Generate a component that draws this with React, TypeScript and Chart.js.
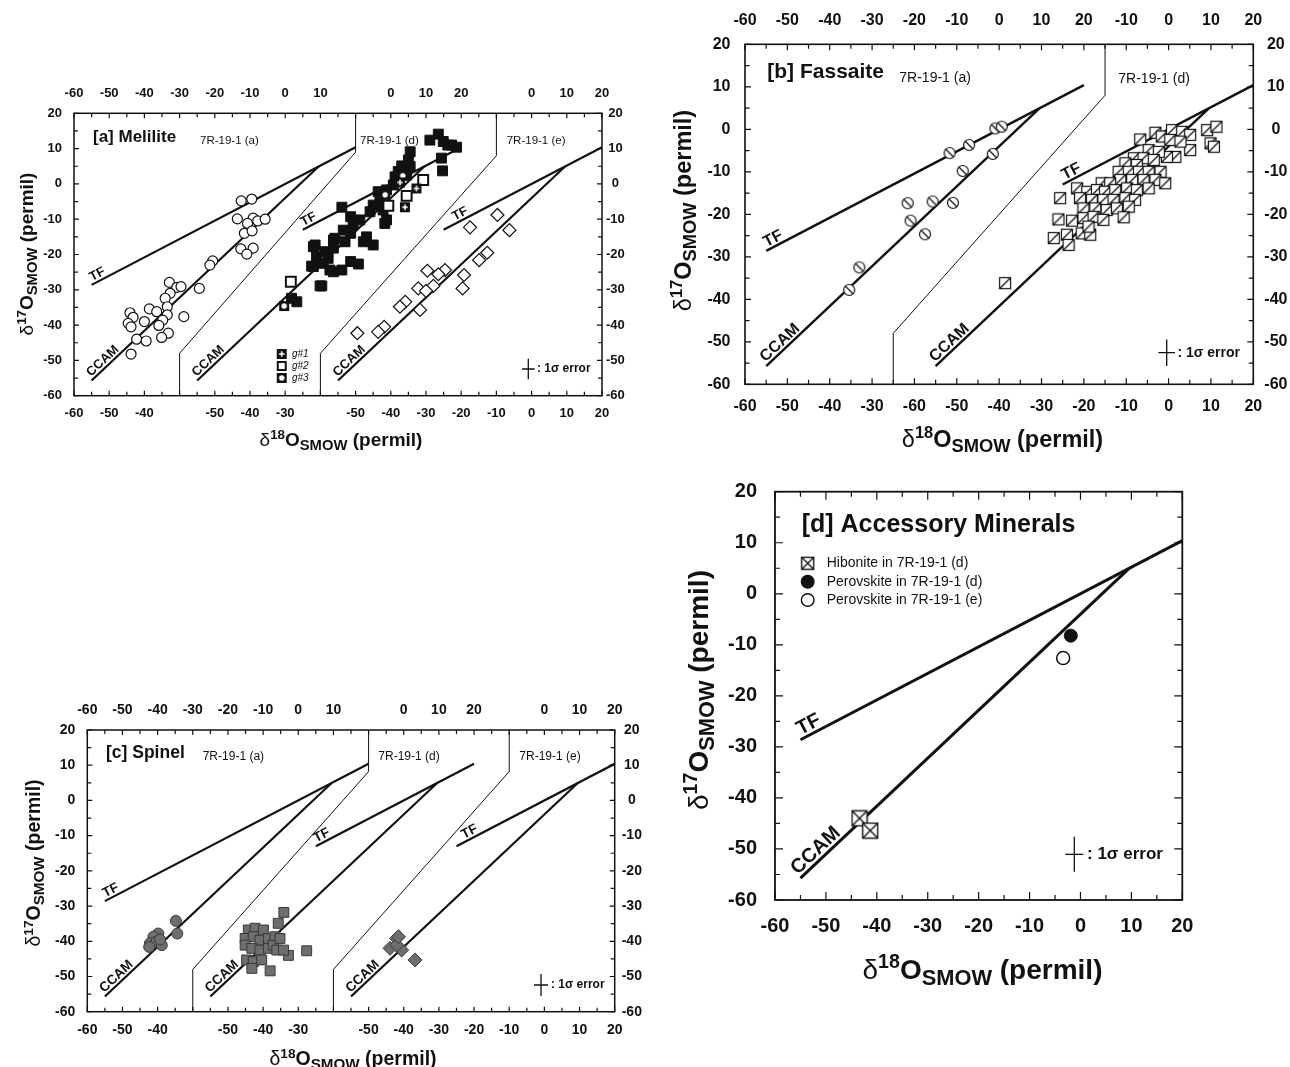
import React, { useEffect, useRef } from "react";
import { Chart, registerables } from "chart.js";

Chart.register(...registerables);

const FONT = "'Liberation Sans', Arial, Helvetica, sans-serif";
const INK = "#111111";
const GRAY_FILL = "#6e6e6e";
const GRAY_EDGE = "#3a3a3a";

// ---------- reference lines ----------
const TF_SLOPE = 0.52;
const CCAM_SLOPE = 0.94;
const CCAM_INTERCEPT = -4.0;
const TF_LONG = [-55, 20];
const TF_SHORT = [-25, 20];
const CCAM_SPAN = [-55, 9.5];

// ---------- y axis ----------
const Y_MIN = -60;
const Y_MAX = 20;
const Y_STEP = 10;

// ---------- [a] Melilite ----------
const MELILITE_A = [
  [-12.5, -4.8], [-9.5, -4.3], [-13.6, -9.9], [-9.1, -9.7], [-7.8, -10.5], [-5.7, -10.0], [-10.7, -11.2],
  [-11.6, -14.0], [-9.4, -13.3], [-12.6, -18.4], [-9.1, -18.2], [-10.9, -19.9], [-20.6, -21.8], [-21.4, -23.0],
  [-32.9, -27.9], [-30.8, -29.3], [-29.6, -29.1], [-24.4, -29.6], [-32.7, -31.0], [-34.1, -32.4], [-33.5, -34.8],
  [-44.1, -36.5], [-38.6, -35.4], [-36.5, -36.2], [-33.5, -37.1], [-43.2, -37.8], [-28.8, -37.6], [-44.6, -39.5],
  [-40.0, -39.0], [-34.8, -38.6], [-35.9, -40.1], [-43.8, -40.5], [-33.2, -42.3], [-35.1, -43.5], [-42.2, -44.0],
  [-39.5, -44.5], [-43.8, -48.2],
];
const MELILITE_D = [
  [13.5, 14.1], [11.1, 12.4], [14.9, 12.0], [17.3, 11.0], [18.7, 10.4], [16.2, 11.0], [14.4, 7.3], [14.7, 3.7],
  [5.5, 9.1], [5.0, 6.8], [3.1, 5.1], [5.5, 4.9], [2.1, 3.5], [1.2, 2.0], [4.5, 2.5], [0.7, -0.3], [-1.2, -1.7],
  [-3.6, -2.2], [-3.1, -4.6], [-5.0, -6.0], [-2.2, -7.4], [-5.9, -7.9], [-1.2, -10.2], [-1.7, -11.2],
  [-13.9, -6.6], [-11.4, -9.3], [-8.8, -10.2], [-10.7, -11.6], [-13.5, -13.1], [-11.4, -14.0], [-15.9, -15.4],
  [-13.0, -16.4], [-6.9, -15.0], [-7.8, -16.4], [-5.0, -17.3], [-16.3, -18.2], [-22.0, -17.8], [-18.7, -19.2],
  [-21.1, -20.6], [-17.8, -21.1], [-22.5, -23.3], [-19.2, -22.5], [-16.3, -24.9], [-13.9, -24.4], [-11.4, -22.0],
  [-9.2, -22.7], [-19.6, -28.9], [-28.2, -32.4], [-26.7, -33.4], [-21.5, -17.3], [-16.3, -15.9], [-17.3, -24.4],
  [-20.1, -28.9], [-22.0, -23.4],
];
const MELILITE_G1 = [[4.0, -6.6], [7.3, -1.3], [2.6, 0.4]];
const MELILITE_G2 = [[-28.4, -27.7], [9.2, 1.1], [4.5, -3.4], [-0.7, -6.2]];
const MELILITE_G3 = [[-30.3, -34.6], [-1.6, -3.1], [3.4, 2.3]];
const MELILITE_E = [
  [-17.5, -12.3], [-9.7, -8.8], [-6.3, -13.1], [-12.6, -19.5], [-14.9, -21.6], [-19.2, -25.8], [-19.6, -29.6],
  [-24.6, -24.4], [-26.5, -25.6], [-29.6, -24.6], [-27.9, -28.9], [-32.2, -29.6], [-30.0, -30.3], [-31.7, -35.7],
  [-35.9, -33.4], [-37.4, -34.8], [-41.9, -40.5], [-43.6, -41.9], [-49.5, -42.3],
];

// ---------- [b] Fassaite ----------
const FASSAITE_A = [
  [-11.7, -5.6], [-7.1, -3.7], [-8.6, -9.8], [-21.6, -17.4], [-15.7, -17.0], [-10.9, -17.3], [-20.9, -21.5],
  [-17.5, -24.7], [-33.0, -32.5], [-35.4, -37.8], [-0.9, 0.2], [0.6, 0.6], [-1.5, -5.8],
];
const FASSAITE_D = [
  [-6.7, -2.4], [-3.1, -0.8], [-1.6, -1.7], [0.8, -0.2], [3.2, -0.6], [5.1, -1.3], [9.1, -0.2], [11.3, 0.6],
  [9.9, -3.3], [10.7, -4.1], [5.1, -4.9], [1.6, -6.5], [-0.4, -6.5], [0.4, -2.5], [2.8, -2.9], [-4.7, -4.9],
  [-2.3, -5.3], [-8.2, -6.8], [-5.9, -6.8], [-3.5, -7.2], [-10.2, -8.0], [-7.5, -8.4], [-11.8, -10.0],
  [-9.4, -10.0], [-7.0, -10.0], [-4.7, -10.0], [-1.9, -10.0], [-11.4, -11.9], [-8.6, -11.9], [-5.9, -11.9],
  [-3.1, -11.9], [-0.8, -12.7], [-15.8, -12.7], [-13.8, -12.7], [-21.6, -13.9], [-19.2, -14.7], [-16.9, -14.3],
  [-15.0, -14.7], [-12.6, -14.3], [-9.8, -13.9], [-7.5, -14.3], [-4.7, -13.9], [-25.6, -16.2], [-20.9, -16.2],
  [-18.1, -16.6], [-15.4, -16.6], [-13.0, -16.6], [-10.2, -16.2], [-7.9, -16.6], [-20.1, -18.6], [-17.3, -18.6],
  [-14.6, -19.0], [-12.2, -18.6], [-9.4, -18.2], [-26.0, -21.2], [-22.8, -21.5], [-20.1, -20.9], [-17.7, -20.6],
  [-15.4, -21.3], [-10.6, -20.7], [-27.1, -25.6], [-24.0, -24.8], [-23.6, -27.2], [-20.5, -24.5], [-18.5, -24.8],
  [-18.9, -22.9], [-38.6, -36.2],
];

// ---------- [c] Spinel ----------
const SPINEL_A = [
  [-34.8, -34.2], [-34.4, -37.8], [-39.8, -37.8], [-41.2, -38.7], [-42.2, -40.6], [-40.3, -40.1],
  [-38.8, -41.1], [-42.4, -41.6], [-39.3, -39.5],
];
const SPINEL_D = [
  [-44.2, -36.8], [-42.3, -36.3], [-39.9, -36.8], [-45.1, -39.2], [-42.8, -38.7], [-40.9, -39.7], [-38.5, -39.2],
  [-36.6, -38.7], [-45.1, -41.1], [-43.2, -42.0], [-40.9, -42.5], [-38.5, -42.0], [-44.7, -45.3], [-42.8, -45.8],
  [-40.4, -45.3], [-43.2, -47.7], [-37.1, -41.1], [-36.1, -42.5], [-34.1, -31.8], [-35.7, -34.9], [-27.6, -42.7],
  [-38.0, -48.4], [-32.8, -44.0], [-34.2, -42.5], [-35.2, -39.2],
];
const SPINEL_E = [[-42.0, -39.2], [-43.9, -42.0], [-40.6, -42.5], [-42.0, -41.1], [-36.8, -45.3], [-41.5, -38.7]];

// ---------- [d] Accessory minerals ----------
const HIBONITE_D = [[-43.4, -44.0], [-41.3, -46.4]];
const PEROVSKITE_D = [[-1.9, -8.2]];
const PEROVSKITE_E = [[-3.4, -12.6]];
const D_LEGEND = ["Hibonite in 7R-19-1 (d)", "Perovskite in 7R-19-1 (d)", "Perovskite in 7R-19-1 (e)"];

// ---------- composite x axes (sub-panel offsets and tick labels) ----------
const A_OFF = { a: 60, d: 90, e: 130 };
const B_OFF = { a: 60, d: 100 };
const C_OFF = { a: 60, d: 90, e: 130 };
const A_BOTTOM_TICKS = { a: [-60, -50, -40], d: [-50, -40, -30], e: [-50, -40, -30, -20, -10, 0, 10, 20] };
const A_TOP_TICKS = { a: [-60, -50, -40, -30, -20, -10, 0, 10], d: [0, 10, 20], e: [0, 10, 20] };
const B_BOTTOM_TICKS = { a: [-60, -50, -40, -30], d: [-60, -50, -40, -30, -20, -10, 0, 10, 20] };
const B_TOP_TICKS = { a: [-60, -50, -40, -30, -20, -10, 0, 10, 20], d: [-10, 0, 10, 20] };
const C_BOTTOM_TICKS = { a: [-60, -50, -40], d: [-50, -40, -30], e: [-50, -40, -30, -20, -10, 0, 10, 20] };
const C_TOP_TICKS = { a: [-60, -50, -40, -30, -20, -10, 0, 10], d: [0, 10, 20], e: [0, 10, 20] };
const D_X_TICKS = [-60, -50, -40, -30, -20, -10, 0, 10, 20];

// separators between sub-panels (composite units)
const A_SEPARATORS = [
  { u: [30, 30, 80, 80], y: [-60, -48, 9, 20] },
  { u: [70, 70, 120, 120], y: [-60, -48, 8, 20] },
];
const B_SEPARATORS = [{ u: [35, 35, 85, 85], y: [-60, -48, 8, 20] }];
const C_SEPARATORS = [
  { u: [30, 30, 80, 80], y: [-60, -48, 8.2, 20] },
  { u: [70, 70, 120, 120], y: [-60, -48, 8.2, 20] },
];

// ---------- helpers ----------
function composite(spec: Record<string, number[]>, offs: Record<string, number>) {
  const out: { v: number; label: string }[] = [];
  Object.keys(spec).forEach((k) => spec[k].forEach((t) => out.push({ v: t + offs[k], label: String(t) })));
  return out;
}

function symCanvas(w: number, h: number, draw: (c: CanvasRenderingContext2D) => void) {
  const cv = document.createElement("canvas");
  cv.width = w;
  cv.height = h;
  draw(cv.getContext("2d")!);
  return cv;
}
function slashedCircle(r: number) {
  const s = Math.ceil(r * 2 + 3);
  return symCanvas(s, s, (c) => {
    const m = s / 2;
    c.lineWidth = 1.2;
    c.strokeStyle = INK;
    c.fillStyle = "#fff";
    c.beginPath();
    c.arc(m, m, r, 0, Math.PI * 2);
    c.fill();
    c.stroke();
    const k = r * 0.72;
    c.beginPath();
    c.moveTo(m - k, m - k);
    c.lineTo(m + k, m + k);
    c.stroke();
  });
}
function slashedSquare(side: number) {
  const s = Math.ceil(side + 3);
  return symCanvas(s, s, (c) => {
    const a = (s - side) / 2;
    c.lineWidth = 1.2;
    c.strokeStyle = INK;
    c.fillStyle = "#fff";
    c.fillRect(a, a, side, side);
    c.strokeRect(a, a, side, side);
    c.beginPath();
    c.moveTo(a, a + side);
    c.lineTo(a + side, a);
    c.stroke();
  });
}
function crossedSquare(side: number) {
  const s = Math.ceil(side + 3);
  return symCanvas(s, s, (c) => {
    const a = (s - side) / 2;
    c.lineWidth = 1.4;
    c.strokeStyle = INK;
    c.fillStyle = "#fff";
    c.fillRect(a, a, side, side);
    c.strokeRect(a, a, side, side);
    c.beginPath();
    c.moveTo(a, a);
    c.lineTo(a + side, a + side);
    c.moveTo(a, a + side);
    c.lineTo(a + side, a);
    c.stroke();
  });
}
function g1Symbol(side: number) {
  const s = Math.ceil(side + 2);
  return symCanvas(s, s, (c) => {
    const a = (s - side) / 2;
    c.fillStyle = INK;
    c.fillRect(a, a, side, side);
    c.strokeStyle = "#fff";
    c.lineWidth = 1.6;
    const m = s / 2;
    const k = side * 0.28;
    c.beginPath();
    c.moveTo(m - k, m);
    c.lineTo(m + k, m);
    c.moveTo(m, m - k);
    c.lineTo(m, m + k);
    c.stroke();
  });
}
function g3Symbol(side: number) {
  const s = Math.ceil(side + 2);
  return symCanvas(s, s, (c) => {
    const a = (s - side) / 2;
    c.fillStyle = INK;
    c.fillRect(a, a, side, side);
    c.fillStyle = "#fff";
    c.beginPath();
    c.arc(s / 2, s / 2, side * 0.27, 0, Math.PI * 2);
    c.fill();
  });
}

const toXY = (pts: number[][], off: number) => pts.map(([x, y]) => ({ x: x + off, y }));
function pointSet(label: string, pts: number[][], off: number, style: any) {
  return { label, data: toXY(pts, off), showLine: false, order: 0, ...style };
}
function lineSet(xs: number[], ys: number[], width: number) {
  return {
    label: "",
    data: xs.map((x, i) => ({ x, y: ys[i] })),
    showLine: true,
    pointRadius: 0,
    borderColor: INK,
    borderWidth: width,
    order: 1,
    fill: false,
    tension: 0,
  };
}
type RefLine = { text: string; u: number[]; y: number[]; along: number };
function refLines(off: number, tfRange: number[], tfAlong: number, ccAlong: number): RefLine[] {
  return [
    { text: "TF", u: tfRange.map((v) => v + off), y: tfRange.map((v) => TF_SLOPE * v), along: tfAlong },
    {
      text: "CCAM",
      u: CCAM_SPAN.map((v) => v + off),
      y: CCAM_SPAN.map((v) => CCAM_SLOPE * v + CCAM_INTERCEPT),
      along: ccAlong,
    },
  ];
}

function xScale(position: string, min: number, max: number, ticks: { v: number; label: string }[], size: number, pad: number, h: number) {
  const map = new Map(ticks.map((t) => [t.v, t.label]));
  return {
    type: "linear",
    position,
    min,
    max,
    grid: { display: false, drawTicks: false },
    border: { display: false },
    ticks: {
      autoSkip: false,
      maxRotation: 0,
      minRotation: 0,
      padding: pad,
      color: INK,
      font: { family: FONT, size, weight: "bold" },
      callback: (v: any) => map.get(Number(v)) ?? "",
    },
    afterBuildTicks: (s: any) => {
      s.ticks = ticks.map((t) => ({ value: t.v }));
    },
    afterFit: (s: any) => {
      s.height = h;
    },
  };
}
function yScale(position: string, size: number, pad: number, w: number, crossAlign: string) {
  return {
    type: "linear",
    position,
    min: Y_MIN,
    max: Y_MAX,
    grid: { display: false, drawTicks: false },
    border: { display: false },
    ticks: { stepSize: Y_STEP, padding: pad, color: INK, crossAlign, font: { family: FONT, size, weight: "bold" } },
    afterFit: (s: any) => {
      s.width = w;
    },
  };
}

function drawAxisTitle(ctx: CanvasRenderingContext2D, x: number, y: number, F: number, vertical: boolean, sup: string) {
  const segs = [
    { t: "δ", font: `${F}px ${FONT}`, dy: 0 },
    { t: sup, font: `bold ${0.7 * F}px ${FONT}`, dy: -0.38 * F },
    { t: "O", font: `bold ${F}px ${FONT}`, dy: 0 },
    { t: "SMOW", font: `bold ${0.78 * F}px ${FONT}`, dy: 0.22 * F },
    { t: " (permil)", font: `bold ${F}px ${FONT}`, dy: 0 },
  ];
  let total = 0;
  const widths = segs.map((s) => {
    ctx.font = s.font;
    const w = ctx.measureText(s.t).width;
    total += w;
    return w;
  });
  ctx.save();
  ctx.translate(x, y);
  if (vertical) ctx.rotate(-Math.PI / 2);
  ctx.textAlign = "left";
  ctx.textBaseline = "alphabetic";
  let cx = -total / 2;
  segs.forEach((s, i) => {
    ctx.font = s.font;
    ctx.fillText(s.t, cx, s.dy);
    cx += widths[i];
  });
  ctx.restore();
}

interface Deco {
  left: number;
  top: number;
  frameW: number;
  tickMajor: number;
  tickMinor: number;
  texts: { t: string; x: number; y: number; font: string }[];
  lines: RefLine[];
  lineFont: string;
  lineGap: number;
  xTitle: { cx: number; base: number; F: number };
  yTitle: { base: number; cy: number; F: number };
  err: { cx: number; cy: number; hw: number; hh: number; tx: number; font: string };
  legend?: { x: number; y: number; draw: (c: CanvasRenderingContext2D, x: number, y: number) => void; text: string; tx: number; font: string }[];
}

function decoPlugin(d: Deco) {
  return {
    id: "deco",
    afterDatasetsDraw(chart: any) {
      const ctx = chart.ctx as CanvasRenderingContext2D;
      const ca = chart.chartArea;
      const xs = chart.scales.x;
      const ys = chart.scales.y;
      const X = (px: number) => px - d.left;
      const Y = (py: number) => py - d.top;
      ctx.save();
      ctx.strokeStyle = INK;
      ctx.fillStyle = INK;
      // inward ticks on all four sides
      ctx.lineWidth = 1.2;
      ctx.beginPath();
      for (let v = xs.min; v <= xs.max + 1e-6; v += 5) {
        const px = xs.getPixelForValue(v);
        const len = Math.abs(v % 10) < 1e-6 ? d.tickMajor : d.tickMinor;
        ctx.moveTo(px, ca.top);
        ctx.lineTo(px, ca.top + len);
        ctx.moveTo(px, ca.bottom);
        ctx.lineTo(px, ca.bottom - len);
      }
      for (let v = ys.min; v <= ys.max + 1e-6; v += 5) {
        const py = ys.getPixelForValue(v);
        const len = Math.abs(v % 10) < 1e-6 ? d.tickMajor : d.tickMinor;
        ctx.moveTo(ca.left, py);
        ctx.lineTo(ca.left + len, py);
        ctx.moveTo(ca.right, py);
        ctx.lineTo(ca.right - len, py);
      }
      ctx.stroke();
      // frame
      ctx.lineWidth = d.frameW;
      ctx.strokeRect(ca.left, ca.top, ca.right - ca.left, ca.bottom - ca.top);
      // texts
      ctx.textAlign = "left";
      ctx.textBaseline = "middle";
      d.texts.forEach((t) => {
        ctx.font = t.font;
        ctx.fillText(t.t, X(t.x), Y(t.y));
      });
      // TF / CCAM labels along their lines
      d.lines.forEach((L) => {
        const x0 = xs.getPixelForValue(L.u[0]);
        const y0 = ys.getPixelForValue(L.y[0]);
        const x1 = xs.getPixelForValue(L.u[1]);
        const y1 = ys.getPixelForValue(L.y[1]);
        const ang = Math.atan2(y1 - y0, x1 - x0);
        ctx.save();
        ctx.translate(x0, y0);
        ctx.rotate(ang);
        ctx.font = d.lineFont;
        ctx.textBaseline = "alphabetic";
        ctx.fillText(L.text, L.along, -d.lineGap);
        ctx.restore();
      });
      // error cross
      const e = d.err;
      ctx.lineWidth = 1.3;
      ctx.beginPath();
      ctx.moveTo(X(e.cx - e.hw), Y(e.cy));
      ctx.lineTo(X(e.cx + e.hw), Y(e.cy));
      ctx.moveTo(X(e.cx), Y(e.cy - e.hh));
      ctx.lineTo(X(e.cx), Y(e.cy + e.hh));
      ctx.stroke();
      ctx.font = e.font;
      ctx.textBaseline = "middle";
      ctx.fillText(": 1σ error", X(e.tx), Y(e.cy));
      // legend
      (d.legend || []).forEach((it) => {
        it.draw(ctx, X(it.x), Y(it.y));
        ctx.fillStyle = INK;
        ctx.font = it.font;
        ctx.textBaseline = "middle";
        ctx.fillText(it.text, X(it.tx), Y(it.y));
      });
      // axis titles
      drawAxisTitle(ctx, X(d.xTitle.cx), Y(d.xTitle.base), d.xTitle.F, false, "18");
      drawAxisTitle(ctx, X(d.yTitle.base), Y(d.yTitle.cy), d.yTitle.F, true, "17");
      ctx.restore();
    },
  };
}

function baseOptions(scales: any, padding: any = 0) {
  return {
    responsive: false,
    animation: false,
    events: [],
    layout: { padding },
    plugins: { legend: { display: false }, tooltip: { enabled: false }, title: { display: false } },
    scales,
  };
}

function drawImg(img: HTMLCanvasElement) {
  return (c: CanvasRenderingContext2D, x: number, y: number) => c.drawImage(img, x - img.width / 2, y - img.height / 2);
}

// ---------- panel builders ----------
type PanelBox = { left: number; top: number; width: number; height: number };

function buildA(box: PanelBox) {
  const g1 = g1Symbol(10);
  const g3 = g3Symbol(10);
  const openSq = symCanvas(12, 12, (c) => {
    c.fillStyle = "#fff";
    c.fillRect(1, 1, 10, 10);
    c.strokeStyle = INK;
    c.lineWidth = 2;
    c.strokeRect(2, 2, 8, 8);
  });
  const lines = [
    ...refLines(A_OFF.a, TF_LONG, 2, 2),
    ...refLines(A_OFF.d, TF_SHORT, 2, 2),
    ...refLines(A_OFF.e, TF_SHORT, 14, 2),
  ];
  const datasets: any[] = [
    pointSet("g#1", MELILITE_G1, A_OFF.d, { pointStyle: g1, pointRadius: 6 }),
    pointSet("g#2", MELILITE_G2, A_OFF.d, { pointStyle: "rect", pointRadius: 7, backgroundColor: "#fff", borderColor: INK, borderWidth: 2 }),
    pointSet("g#3", MELILITE_G3, A_OFF.d, { pointStyle: g3, pointRadius: 6 }),
    pointSet("7R-19-1 (d)", MELILITE_D, A_OFF.d, { pointStyle: "rect", pointRadius: 7, backgroundColor: INK, borderColor: INK, borderWidth: 1 }),
    pointSet("7R-19-1 (a)", MELILITE_A, A_OFF.a, { pointStyle: "circle", pointRadius: 5, backgroundColor: "#fff", borderColor: INK, borderWidth: 1.2 }),
    pointSet("7R-19-1 (e)", MELILITE_E, A_OFF.e, { pointStyle: "rectRot", pointRadius: 6.5, backgroundColor: "#fff", borderColor: INK, borderWidth: 1.2 }),
    ...lines.map((L) => lineSet(L.u, L.y, 2.2)),
    ...A_SEPARATORS.map((s) => lineSet(s.u, s.y, 1)),
  ];
  const scales = {
    x: xScale("bottom", 0, 150, composite(A_BOTTOM_TICKS, A_OFF), 13, 9.8, 64.3),
    x2: xScale("top", 0, 150, composite(A_TOP_TICKS, A_OFF), 13, 12.2, 53.3),
    y: yScale("left", 13, 12, 74, "near"),
    y2: yScale("right", 13, 4, 48, "center"),
  };
  const deco: Deco = {
    left: box.left,
    top: box.top,
    frameW: 1.5,
    tickMajor: 5,
    tickMinor: 4,
    texts: [
      { t: "[a] Melilite", x: 93, y: 137.5, font: `bold 17px ${FONT}` },
      { t: "7R-19-1 (a)", x: 200, y: 141, font: `11.5px ${FONT}` },
      { t: "7R-19-1 (d)", x: 360, y: 141, font: `11.5px ${FONT}` },
      { t: "7R-19-1 (e)", x: 506.7, y: 141, font: `11.5px ${FONT}` },
    ],
    lines,
    lineFont: `bold 13px ${FONT}`,
    lineGap: 3,
    xTitle: { cx: 341, base: 446, F: 19 },
    yTitle: { base: 33, cy: 254, F: 19 },
    err: { cx: 528.3, cy: 369, hw: 6.3, hh: 10.3, tx: 537, font: `bold 12px ${FONT}` },
    legend: [
      { x: 281.7, y: 354, draw: drawImg(g1), text: "g#1", tx: 292, font: `italic 10px ${FONT}` },
      { x: 281.7, y: 366, draw: drawImg(openSq), text: "g#2", tx: 292, font: `italic 10px ${FONT}` },
      { x: 281.7, y: 378, draw: drawImg(g3), text: "g#3", tx: 292, font: `italic 10px ${FONT}` },
    ],
  };
  return { type: "scatter", data: { datasets }, options: baseOptions(scales), plugins: [decoPlugin(deco)] };
}

function buildB(box: PanelBox) {
  const sc = slashedCircle(5.5);
  const sq = slashedSquare(11);
  const lines = [...refLines(B_OFF.a, TF_LONG, 2, 2), ...refLines(B_OFF.d, TF_SHORT, 4, 2)];
  const datasets: any[] = [
    pointSet("7R-19-1 (a)", FASSAITE_A, B_OFF.a, { pointStyle: sc, pointRadius: 6 }),
    pointSet("7R-19-1 (d)", FASSAITE_D, B_OFF.d, { pointStyle: sq, pointRadius: 6 }),
    ...lines.map((L) => lineSet(L.u, L.y, 2.4)),
    ...B_SEPARATORS.map((s) => lineSet(s.u, s.y, 1)),
  ];
  const scales = {
    x: xScale("bottom", 0, 120, composite(B_BOTTOM_TICKS, B_OFF), 16, 12.8, 75.7),
    x2: xScale("top", 0, 120, composite(B_TOP_TICKS, B_OFF), 16, 14, 44.3),
    y: yScale("left", 16, 14.5, 95, "near"),
    y2: yScale("right", 16, 11, 36.7, "center"),
  };
  const deco: Deco = {
    left: box.left,
    top: box.top,
    frameW: 1.6,
    tickMajor: 6,
    tickMinor: 4.5,
    texts: [
      { t: "[b] Fassaite", x: 767.3, y: 72.7, font: `bold 21px ${FONT}` },
      { t: "7R-19-1 (a)", x: 899.3, y: 78.5, font: `14px ${FONT}` },
      { t: "7R-19-1 (d)", x: 1118.3, y: 79.3, font: `14px ${FONT}` },
    ],
    lines,
    lineFont: `bold 16px ${FONT}`,
    lineGap: 3,
    xTitle: { cx: 1002.5, base: 447, F: 23.5 },
    yTitle: { base: 691, cy: 210.5, F: 23.5 },
    err: { cx: 1166.7, cy: 352.7, hw: 8.3, hh: 13.3, tx: 1177.5, font: `bold 14px ${FONT}` },
  };
  return { type: "scatter", data: { datasets }, options: baseOptions(scales), plugins: [decoPlugin(deco)] };
}

function buildC(box: PanelBox) {
  const gray = { backgroundColor: GRAY_FILL, borderColor: GRAY_EDGE, borderWidth: 1 };
  const lines = [
    ...refLines(C_OFF.a, TF_LONG, 2, 2),
    ...refLines(C_OFF.d, TF_SHORT, 2, 2),
    ...refLines(C_OFF.e, TF_SHORT, 10, 2),
  ];
  const datasets: any[] = [
    pointSet("7R-19-1 (a)", SPINEL_A, C_OFF.a, { pointStyle: "circle", pointRadius: 5.5, ...gray }),
    pointSet("7R-19-1 (d)", SPINEL_D, C_OFF.d, { pointStyle: "rect", pointRadius: 7, ...gray }),
    pointSet("7R-19-1 (e)", SPINEL_E, C_OFF.e, { pointStyle: "rectRot", pointRadius: 7, ...gray }),
    ...lines.map((L) => lineSet(L.u, L.y, 2.2)),
    ...C_SEPARATORS.map((s) => lineSet(s.u, s.y, 1)),
  ];
  const scales = {
    x: xScale("bottom", 0, 150, composite(C_BOTTOM_TICKS, C_OFF), 14, 9.9, 55.3),
    x2: xScale("top", 0, 150, composite(C_TOP_TICKS, C_OFF), 14, 11.6, 50),
    y: yScale("left", 14, 12, 87.3, "near"),
    y2: yScale("right", 14, 7, 35.3, "center"),
  };
  const deco: Deco = {
    left: box.left,
    top: box.top,
    frameW: 1.5,
    tickMajor: 5,
    tickMinor: 4,
    texts: [
      { t: "[c] Spinel", x: 106, y: 753.3, font: `bold 17.5px ${FONT}` },
      { t: "7R-19-1 (a)", x: 202.7, y: 757, font: `12px ${FONT}` },
      { t: "7R-19-1 (d)", x: 378.3, y: 757, font: `12px ${FONT}` },
      { t: "7R-19-1 (e)", x: 519.3, y: 757, font: `12px ${FONT}` },
    ],
    lines,
    lineFont: `bold 13.5px ${FONT}`,
    lineGap: 3,
    xTitle: { cx: 353, base: 1065, F: 19.5 },
    yTitle: { base: 40, cy: 863, F: 19.5 },
    err: { cx: 541, cy: 985, hw: 7, hh: 11, tx: 551, font: `bold 12px ${FONT}` },
  };
  return { type: "scatter", data: { datasets }, options: baseOptions(scales), plugins: [decoPlugin(deco)] };
}

function buildD(box: PanelBox) {
  const hib = crossedSquare(15);
  const hibSmall = crossedSquare(12);
  const lines = refLines(0, TF_LONG, 2, 0);
  const datasets: any[] = [
    pointSet(D_LEGEND[0], HIBONITE_D, 0, { pointStyle: hib, pointRadius: 8 }),
    pointSet(D_LEGEND[1], PEROVSKITE_D, 0, { pointStyle: "circle", pointRadius: 6.5, backgroundColor: INK, borderColor: INK, borderWidth: 1 }),
    pointSet(D_LEGEND[2], PEROVSKITE_E, 0, { pointStyle: "circle", pointRadius: 6.5, backgroundColor: "#fff", borderColor: INK, borderWidth: 1.5 }),
    ...lines.map((L) => lineSet(L.u, L.y, 3)),
  ];
  const scales = {
    x: xScale("bottom", -60, 20, D_X_TICKS.map((v) => ({ v, label: String(v) })), 20, 14.7, 167),
    y: yScale("left", 20, 18, 95, "near"),
  };
  const circ = (fill: string) => (c: CanvasRenderingContext2D, x: number, y: number) => {
    c.beginPath();
    c.arc(x, y, 6.3, 0, Math.PI * 2);
    c.fillStyle = fill;
    c.fill();
    c.lineWidth = 1.4;
    c.strokeStyle = INK;
    c.stroke();
  };
  const deco: Deco = {
    left: box.left,
    top: box.top,
    frameW: 1.8,
    tickMajor: 8,
    tickMinor: 5,
    texts: [{ t: "[d] Accessory Minerals", x: 801.7, y: 525, font: `bold 25px ${FONT}` }],
    lines,
    lineFont: `bold 20px ${FONT}`,
    lineGap: 4,
    xTitle: { cx: 982.5, base: 979, F: 28 },
    yTitle: { base: 708, cy: 690, F: 28 },
    err: { cx: 1074.3, cy: 854.3, hw: 9, hh: 17.5, tx: 1087, font: `bold 17px ${FONT}` },
    legend: [
      { x: 807.7, y: 563.3, draw: drawImg(hibSmall), text: D_LEGEND[0], tx: 826.7, font: `14px ${FONT}` },
      { x: 807.7, y: 581.7, draw: circ(INK), text: D_LEGEND[1], tx: 826.7, font: `14px ${FONT}` },
      { x: 807.7, y: 600, draw: circ("#fff"), text: D_LEGEND[2], tx: 826.7, font: `14px ${FONT}` },
    ],
  };
  return {
    type: "scatter",
    data: { datasets },
    options: baseOptions(scales, { top: 31.7, right: 107.7, left: 0, bottom: 0 }),
    plugins: [decoPlugin(deco)],
  };
}

const PANELS: { box: PanelBox; build: (b: PanelBox) => any }[] = [
  { box: { left: 0, top: 60, width: 650, height: 400 }, build: buildA },
  { box: { left: 650, top: 0, width: 640, height: 460 }, build: buildB },
  { box: { left: 0, top: 680, width: 650, height: 387 }, build: buildC },
  { box: { left: 680, top: 460, width: 610, height: 607 }, build: buildD },
];

function ChartPanel({ box, build }: { box: PanelBox; build: (b: PanelBox) => any }) {
  const ref = useRef<HTMLCanvasElement>(null);
  useEffect(() => {
    const chart = new Chart(ref.current as HTMLCanvasElement, build(box));
    return () => chart.destroy();
  }, []);
  return (
    <canvas
      ref={ref}
      width={box.width}
      height={box.height}
      style={{ position: "absolute", left: box.left, top: box.top, width: box.width, height: box.height }}
    />
  );
}

export default function App() {
  return (
    <div style={{ position: "absolute", left: 0, top: 0, width: 1290, height: 1067, background: "#fff", overflow: "hidden" }}>
      {PANELS.map((p, i) => (
        <ChartPanel key={i} box={p.box} build={p.build} />
      ))}
    </div>
  );
}
